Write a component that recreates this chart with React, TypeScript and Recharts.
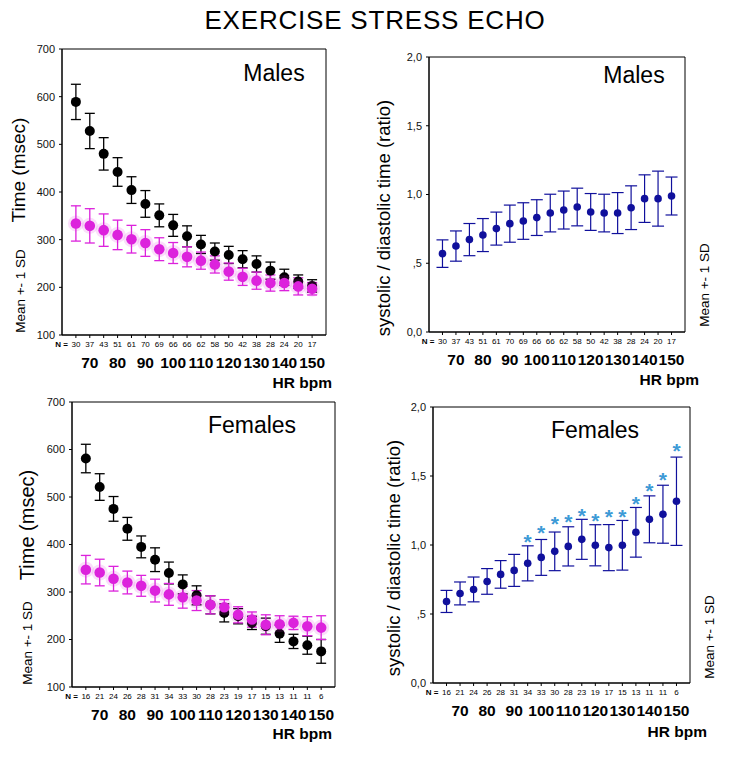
import React from 'react'
import { ComposedChart, Scatter, ErrorBar, XAxis, YAxis, ReferenceArea } from 'recharts'

const FONT = 'Arial, "Liberation Sans", Helvetica, sans-serif'

// one bin per N column, HR label under every other bin
const bins = [0, 1, 2, 3, 4, 5, 6, 7, 8, 9, 10, 11, 12, 13, 14, 15, 16, 17]
const hrLabels = ['70', '80', '90', '100', '110', '120', '130', '140', '150']

const malesN = [30, 37, 43, 51, 61, 70, 69, 66, 66, 62, 58, 50, 42, 38, 28, 24, 20, 17]
const femalesN = [16, 21, 24, 26, 28, 31, 34, 33, 30, 28, 23, 19, 17, 15, 13, 11, 11, 6]

// males, time (msec): black = diastolic, magenta = systolic
const maleDiast = [589, 528, 480, 442, 404, 375, 351, 330, 307, 290, 275, 268, 259, 249, 235, 221, 212, 203]
const maleDiastSd = [37, 37, 34, 30, 28, 28, 24, 23, 22, 19, 18, 18, 18, 17, 18, 17, 14, 13]
const maleSyst = [334, 329, 320, 310, 301, 293, 280, 272, 264, 256, 248, 233, 222, 214, 209, 209, 202, 197]
const maleSystSd = [37, 36, 34, 31, 29, 28, 24, 22, 21, 18, 18, 18, 18, 18, 17, 16, 18, 13]

// males, systolic / diastolic ratio
const maleRatio = [0.57, 0.625, 0.672, 0.705, 0.752, 0.788, 0.807, 0.832, 0.865, 0.887, 0.909, 0.873, 0.865, 0.865, 0.904, 0.97, 0.97, 0.989]
const maleRatioSd = [0.1, 0.11, 0.117, 0.12, 0.12, 0.135, 0.133, 0.13, 0.137, 0.138, 0.137, 0.134, 0.137, 0.149, 0.159, 0.173, 0.2, 0.138]

// females, time (msec)
const femaleDiast = [581, 521, 475, 433, 395, 368, 340, 316, 293, 273, 256, 249, 235, 228, 212, 196, 188, 175]
const femaleDiastSd = [30, 28, 26, 24, 23, 25, 23, 20, 20, 19, 19, 16, 14, 17, 18, 15, 19, 25]
const femaleSyst = [347, 341, 328, 320, 313, 303, 295, 289, 282, 273, 268, 252, 242, 231, 232, 235, 228, 225]
const femaleSystSd = [30, 28, 26, 24, 22, 24, 23, 23, 21, 19, 16, 17, 16, 21, 18, 14, 20, 25]

// females, ratio + significance stars
const femaleRatio = [0.591, 0.649, 0.678, 0.736, 0.787, 0.816, 0.867, 0.91, 0.954, 0.99, 1.041, 0.998, 0.981, 0.998, 1.092, 1.186, 1.223, 1.317]
const femaleRatioSd = [0.08, 0.083, 0.09, 0.093, 0.1, 0.116, 0.127, 0.13, 0.14, 0.142, 0.145, 0.149, 0.167, 0.18, 0.18, 0.17, 0.21, 0.32]
const femaleStars = [null, null, null, null, null, null, 1.06, 1.12, 1.186, 1.2, 1.247, 1.213, 1.242, 1.242, 1.332, 1.424, 1.508, 1.719]

const timeTicks = [100, 200, 300, 400, 500, 600, 700]
const ratioTicks = [0, 0.5, 1, 1.5, 2]

const BLACK = '#000'
const MAGENTA = '#dc22dc'
const NAVY = '#10109c'
const STAR = '#3d9ad6'

const maleTimeRows = bins.map((i) => ({ i, diast: maleDiast[i], diastSd: maleDiastSd[i], syst: maleSyst[i], systSd: maleSystSd[i] }))
const femaleTimeRows = bins.map((i) => ({ i, diast: femaleDiast[i], diastSd: femaleDiastSd[i], syst: femaleSyst[i], systSd: femaleSystSd[i] }))
const maleRatioRows = bins.map((i) => ({ i, ratio: maleRatio[i], sd: maleRatioSd[i] }))
const femaleRatioRows = bins.map((i) => ({ i, ratio: femaleRatio[i], sd: femaleRatioSd[i] }))
const starRows = bins.filter((i) => femaleStars[i] != null).map((i) => ({ i, star: femaleStars[i] }))

const ratioFmt = (v: number) => (v === 0.5 ? ',5' : v.toFixed(1).replace('.', ','))

function BinTick(props: any) {
  const { x, y, payload, nValues } = props
  const i = payload.value
  return (
    <g fontFamily={FONT}>
      {i === 0 && (
        <text x={x - 8} y={y + 7} textAnchor="end" fontSize={8} fontWeight="bold" fill="#000">
          N =
        </text>
      )}
      <text x={x} y={y + 7} textAnchor="middle" fontSize={8} fill="#000">
        {nValues[i]}
      </text>
      {i % 2 === 1 && (
        <text x={x} y={y + 28} textAnchor="middle" fontSize={15.5} fontWeight="bold" fill="#000">
          {hrLabels[(i - 1) / 2]}
        </text>
      )}
    </g>
  )
}

const blackDot = (p: any) => <circle cx={p.cx} cy={p.cy} r={5} fill={BLACK} />
const pinkDot = (p: any) => (
  <g>
    <circle cx={p.cx} cy={p.cy} r={8} fill={MAGENTA} opacity={0.15} />
    <circle cx={p.cx} cy={p.cy} r={5.3} fill={MAGENTA} />
  </g>
)
const navyDot = (p: any) => <circle cx={p.cx} cy={p.cy} r={3.8} fill={NAVY} />
const starMark = (p: any) => (
  <text x={p.cx} y={p.cy + 12} textAnchor="middle" fontSize={21} fontWeight="bold" fill={STAR} fontFamily={FONT}>
    *
  </text>
)

function Panel(props: any) {
  const { left, top, width, height, yWidth, rows, nValues, domain, ticks, fmt, children } = props
  return (
    <div style={{ position: 'absolute', left, top }}>
      <ComposedChart width={width} height={height} data={rows} margin={{ top: 10, right: 10, bottom: 0, left: 0 }}>
        <XAxis
          type="number"
          dataKey="i"
          domain={[-1, 18]}
          ticks={bins}
          interval={0}
          tickSize={3}
          tickMargin={2}
          height={50}
          stroke="#000"
          tick={(p: any) => <BinTick {...p} nValues={nValues} />}
        />
        <YAxis
          type="number"
          domain={domain}
          ticks={ticks}
          interval={0}
          allowDataOverflow
          tickSize={3}
          tickMargin={4}
          width={yWidth}
          stroke="#000"
          tick={{ fill: '#111', fontSize: 11, fontFamily: FONT }}
          tickFormatter={fmt}
        />
        <ReferenceArea x1={-1} x2={18} y1={domain[0]} y2={domain[1]} fill="none" stroke="#000" strokeWidth={1} />
        {children}
      </ComposedChart>
    </div>
  )
}

function Labels() {
  const rot = (x: number, y: number, size: number, text: string, key: string) => (
    <text key={key} x={x} y={y} transform={`rotate(-90, ${x}, ${y})`} textAnchor="middle" dominantBaseline="central" fontSize={size} fill="#000">
      {text}
    </text>
  )
  const hr = (x: number, y: number, key: string) => (
    <text key={key} x={x} y={y} textAnchor="end" dominantBaseline="central" fontSize={15.5} fontWeight="bold" fill="#000">
      HR bpm
    </text>
  )
  return (
    <svg width={730} height={760} style={{ position: 'absolute', left: 0, top: 0, pointerEvents: 'none' }} fontFamily={FONT}>
      <text x={375} y={20} textAnchor="middle" dominantBaseline="central" fontSize={26} letterSpacing={0.8} fill="#000">
        EXERCISE STRESS ECHO
      </text>
      <text x={274} y={73} textAnchor="middle" dominantBaseline="central" fontSize={23} fill="#000">Males</text>
      <text x={634} y={75} textAnchor="middle" dominantBaseline="central" fontSize={23} fill="#000">Males</text>
      <text x={252} y={425} textAnchor="middle" dominantBaseline="central" fontSize={23} fill="#000">Females</text>
      <text x={595} y={430} textAnchor="middle" dominantBaseline="central" fontSize={23} fill="#000">Females</text>

      {rot(18, 170, 19, 'Time (msec)', 't1')}
      {rot(20, 291, 13.5, 'Mean +- 1 SD', 'm1')}
      {rot(383, 218, 18.5, 'systolic / diastolic time (ratio)', 'r1')}
      {rot(704, 285, 13.5, 'Mean +- 1 SD', 'm2')}
      {rot(27, 525, 20, 'Time (msec)', 't3')}
      {rot(27, 643, 13.5, 'Mean +- 1 SD', 'm3')}
      {rot(393, 558, 18.5, 'systolic / diastolic time (ratio)', 'r4')}
      {rot(709, 637, 13.5, 'Mean +- 1 SD', 'm4')}

      {hr(332, 382, 'h1')}
      {hr(699, 379, 'h2')}
      {hr(332, 733, 'h3')}
      {hr(707, 731, 'h4')}
    </svg>
  )
}

export default function App() {
  return (
    <div style={{ position: 'absolute', left: 0, top: 0, width: 730, height: 760, background: '#fff', fontFamily: FONT }}>
      {/* top left: males time */}
      <Panel left={0} top={39} width={336} height={346} yWidth={62} rows={maleTimeRows} nValues={malesN} domain={[100, 700]} ticks={timeTicks}>
        <Scatter dataKey="diast" isAnimationActive={false} shape={blackDot}>
          <ErrorBar dataKey="diastSd" direction="y" width={5} stroke={BLACK} strokeWidth={1.3} />
        </Scatter>
        <Scatter dataKey="syst" isAnimationActive={false} shape={pinkDot}>
          <ErrorBar dataKey="systSd" direction="y" width={5} stroke={MAGENTA} strokeWidth={1.3} />
        </Scatter>
      </Panel>

      {/* top right: males ratio */}
      <Panel left={380} top={47} width={315} height={335} yWidth={49} rows={maleRatioRows} nValues={malesN} domain={[0, 2]} ticks={ratioTicks} fmt={ratioFmt}>
        <Scatter dataKey="ratio" isAnimationActive={false} shape={navyDot}>
          <ErrorBar dataKey="sd" direction="y" width={6} stroke={NAVY} strokeWidth={1.2} />
        </Scatter>
      </Panel>

      {/* bottom left: females time */}
      <Panel left={0} top={392} width={345} height={345} yWidth={72} rows={femaleTimeRows} nValues={femalesN} domain={[100, 700]} ticks={timeTicks}>
        <Scatter dataKey="diast" isAnimationActive={false} shape={blackDot}>
          <ErrorBar dataKey="diastSd" direction="y" width={5} stroke={BLACK} strokeWidth={1.3} />
        </Scatter>
        <Scatter dataKey="syst" isAnimationActive={false} shape={pinkDot}>
          <ErrorBar dataKey="systSd" direction="y" width={5} stroke={MAGENTA} strokeWidth={1.3} />
        </Scatter>
      </Panel>

      {/* bottom right: females ratio */}
      <Panel left={380} top={397} width={320} height={336} yWidth={53} rows={femaleRatioRows} nValues={femalesN} domain={[0, 2]} ticks={ratioTicks} fmt={ratioFmt}>
        <Scatter dataKey="ratio" isAnimationActive={false} shape={navyDot}>
          <ErrorBar dataKey="sd" direction="y" width={6} stroke={NAVY} strokeWidth={1.2} />
        </Scatter>
        <Scatter data={starRows} dataKey="star" isAnimationActive={false} shape={starMark} />
      </Panel>

      <Labels />
    </div>
  )
}
